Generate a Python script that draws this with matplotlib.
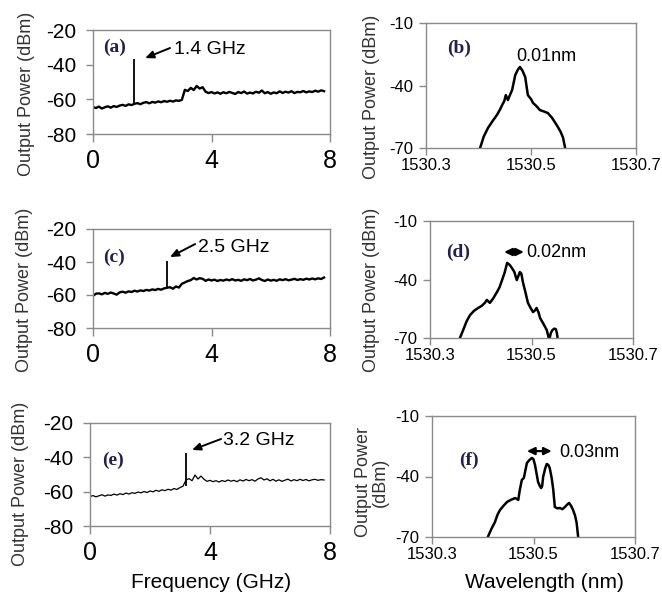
import matplotlib
matplotlib.use("Agg")
import matplotlib.pyplot as plt

W, H = 662, 602
GRAY = "#8a8a8a"
NAVY = "#23204f"
plt.rcParams["font.family"] = ["Liberation Sans", "DejaVu Sans"]
plt.rcParams["axes.unicode_minus"] = False

# RF spectra (a), (c), (e): shared frequency grid, GHz
freq = [0.0, 0.1, 0.2, 0.3, 0.4, 0.5, 0.6, 0.7, 0.8, 0.9,
        1.0, 1.1, 1.2, 1.3, 1.4, 1.5, 1.6, 1.7, 1.8, 1.9,
        2.0, 2.1, 2.2, 2.3, 2.4, 2.5, 2.6, 2.7, 2.8, 2.9,
        3.0, 3.1, 3.2, 3.3, 3.4, 3.5, 3.6, 3.7, 3.8, 3.9,
        4.0, 4.1, 4.2, 4.3, 4.4, 4.5, 4.6, 4.7, 4.8, 4.9,
        5.0, 5.1, 5.2, 5.3, 5.4, 5.5, 5.6, 5.7, 5.8, 5.9,
        6.0, 6.1, 6.2, 6.3, 6.4, 6.5, 6.6, 6.7, 6.8, 6.9,
        7.0, 7.1, 7.2, 7.3, 7.4, 7.5, 7.6, 7.7, 7.8]
power_a = [-64.5, -65.0, -64.2, -65.3, -64.6, -64.0, -64.8, -63.9, -64.4, -63.6,
           -63.2, -63.8, -62.9, -63.3, -62.6, -62.2, -62.8, -62.0, -61.6, -62.3,
           -61.5, -61.9, -61.2, -61.7, -61.0, -61.4, -60.8, -61.3, -60.6, -60.9,
           -60.3, -54.5, -55.2, -53.4, -54.6, -52.3, -53.8, -53.0, -55.6, -56.4,
           -55.8, -56.6, -56.0, -56.8, -55.9, -56.5, -55.7, -56.3, -56.9, -55.8,
           -56.4, -55.5, -56.7, -56.1, -56.6, -55.6, -56.2, -54.9, -56.5, -55.8,
           -56.8, -56.0, -56.5, -55.4, -56.3, -55.6, -56.1, -55.3, -56.4, -55.7,
           -55.9, -55.2, -56.0, -55.4, -55.8, -55.0, -55.6, -54.8, -55.3]
power_c = [-60.5, -59.2, -59.0, -59.6, -58.7, -59.3, -58.5, -59.1, -59.8, -58.4,
           -58.0, -58.6, -57.8, -58.2, -57.4, -57.9, -57.2, -57.6, -56.9, -57.3,
           -56.6, -57.0, -56.3, -56.8, -56.0, -55.6, -55.3, -56.2, -54.8, -55.5,
           -53.2, -52.4, -51.5, -51.0, -49.7, -50.6, -49.8, -50.2, -51.4, -50.6,
           -51.2, -50.7, -51.5, -50.9, -51.3, -50.6, -51.1, -50.4, -51.2, -50.8,
           -51.4, -50.5, -51.0, -50.3, -51.2, -50.7, -49.9, -50.9, -51.5, -50.6,
           -51.3, -50.8, -51.4, -50.5, -51.0, -50.4, -51.1, -50.7, -50.2, -50.9,
           -50.4, -50.8, -50.1, -50.6, -50.0, -50.5, -49.9, -50.3, -49.4]
power_e = [-62.8, -62.3, -63.0, -62.4, -61.8, -62.6, -61.9, -62.2, -61.4, -62.0,
           -61.2, -61.7, -60.8, -61.4, -60.6, -61.0, -60.2, -60.7, -59.9, -60.5,
           -59.6, -60.1, -59.2, -59.8, -58.9, -59.4, -58.6, -59.1, -58.2, -58.7,
           -57.6, -56.8, -53.2, -52.4, -53.6, -50.3, -52.6, -50.9, -52.8, -54.0,
           -53.4, -54.2, -53.6, -54.4, -53.5, -54.1, -53.2, -53.9, -53.4, -54.2,
           -53.1, -53.8, -52.9, -53.6, -53.0, -53.9, -52.6, -51.9, -53.2, -52.5,
           -53.7, -52.8, -53.9, -53.1, -54.0, -53.3, -52.7, -53.8, -53.0, -53.6,
           -52.8, -53.5, -52.9, -53.7, -53.1, -52.8, -53.4, -53.0, -53.2]
# beat-note spikes: frequency, floor, peak
spike_a = [1.4, -62.6, -37.0]
spike_c = [2.5, -55.6, -39.5]
spike_e = [3.2, -56.8, -37.5]

# optical spectra (b), (d), (f)
wl_b = [1530.403, 1530.410, 1530.418, 1530.427, 1530.435, 1530.441, 1530.445, 1530.449,
        1530.452, 1530.456, 1530.460, 1530.464, 1530.470, 1530.475, 1530.479, 1530.484,
        1530.489, 1530.494, 1530.500, 1530.504, 1530.510, 1530.517, 1530.525, 1530.532,
        1530.540, 1530.549, 1530.556, 1530.561, 1530.565]
pw_b = [-70, -64.5, -60.4, -57.0, -54.2, -51.5, -49.4, -47.5,
        -44.6, -47.0, -44.5, -42.2, -35.0, -32.4, -31.1, -33.0,
        -36.0, -44.6, -46.5, -48.4, -49.8, -51.8, -52.5, -53.2,
        -55.5, -59.0, -62.0, -65.0, -70]
wl_d = [1530.359, 1530.366, 1530.372, 1530.379, 1530.387, 1530.395, 1530.402, 1530.408,
        1530.412, 1530.418, 1530.425, 1530.432, 1530.437, 1530.442, 1530.447, 1530.452,
        1530.457, 1530.461, 1530.466, 1530.471, 1530.477, 1530.480, 1530.483, 1530.488,
        1530.493, 1530.498, 1530.503, 1530.507, 1530.510, 1530.514, 1530.517, 1530.523,
        1530.530, 1530.535, 1530.538, 1530.541, 1530.545, 1530.548, 1530.550, 1530.552]
pw_d = [-70, -65.5, -61.5, -58.2, -56.0, -54.6, -53.5, -52.0,
        -50.5, -52.0, -49.5, -46.4, -44.0, -40.3, -36.5, -31.5,
        -32.5, -34.0, -36.0, -40.3, -36.2, -37.0, -41.3, -46.5,
        -52.0, -54.5, -56.7, -55.8, -54.6, -57.0, -59.8, -62.5,
        -65.9, -71.0, -67.5, -66.0, -65.2, -65.5, -67.5, -71.0]
wl_f = [1530.410, 1530.417, 1530.424, 1530.429, 1530.434, 1530.441, 1530.448, 1530.456,
        1530.464, 1530.470, 1530.473, 1530.477, 1530.481, 1530.484, 1530.487, 1530.492,
        1530.497, 1530.500, 1530.503, 1530.506, 1530.509, 1530.512, 1530.515, 1530.517,
        1530.519, 1530.523, 1530.526, 1530.529, 1530.532, 1530.536, 1530.539, 1530.542,
        1530.547, 1530.552, 1530.557, 1530.562, 1530.566, 1530.570, 1530.574, 1530.578,
        1530.582, 1530.585, 1530.588]
pw_f = [-70, -66.0, -62.6, -59.0, -56.6, -54.5, -52.6, -51.5,
        -50.7, -51.6, -46.7, -41.7, -40.7, -37.0, -33.3, -31.8,
        -30.8, -31.5, -34.3, -38.5, -42.7, -44.5, -45.7, -44.8,
        -40.2, -36.0, -33.8, -34.2, -35.8, -41.0, -46.7, -55.1,
        -55.8, -55.6, -56.2, -55.1, -54.0, -53.1, -54.5, -56.6,
        -59.5, -63.0, -70]

rf_yticks = [-20, -40, -60, -80]
rf_xticks = [0, 4, 8]
opt_yticks = [-10, -40, -70]
opt_xticks = [1530.3, 1530.5, 1530.7]
opt_xlabels = ["1530.3", "1530.5", "1530.7"]


def box(fig, left, top, right, bottom):
    ax = fig.add_axes([left / W, 1 - bottom / H, (right - left) / W, (bottom - top) / H])
    for s in ax.spines.values():
        s.set_color(GRAY); s.set_linewidth(1.0)
    ax.tick_params(direction="out", color=GRAY, width=1.0, labelcolor="black")
    return ax


def rf_panel(ax, power, spike, lw, tag, tag_xy, note, head, tail, note_xy):
    ax.plot(freq, power, color="black", lw=lw)
    ax.vlines(spike[0], spike[1], spike[2], color="black", lw=1.3)
    ax.set_xlim(0, 8); ax.set_ylim(-80, -20)
    ax.set_xticks(rf_xticks); ax.set_yticks(rf_yticks)
    ax.tick_params(axis="x", length=6, labelsize=18, pad=5)
    ax.tick_params(axis="y", length=5, labelsize=15, pad=7)
    ax.text(*tag_xy, tag, family="Liberation Serif", weight="bold", fontsize=14,
            color=NAVY, va="center")
    ax.annotate("", xy=head, xytext=tail,
                arrowprops=dict(arrowstyle="-|>,head_length=0.5,head_width=0.22",
                                color="black", lw=1.4, shrinkA=0, shrinkB=0))
    ax.text(*note_xy, note, fontsize=14, va="center")


def opt_panel(ax, wl, pw, tag, tag_xy):
    ax.plot(wl, pw, color="black", lw=1.8)
    ax.set_xlim(1530.3, 1530.7); ax.set_ylim(-70, -10)
    ax.set_xticks(opt_xticks, opt_xlabels); ax.set_yticks(opt_yticks)
    ax.tick_params(axis="x", length=5, labelsize=12, pad=2)
    ax.tick_params(axis="y", length=5, labelsize=12, pad=4)
    ax.text(*tag_xy, tag, family="Liberation Serif", weight="bold", fontsize=14,
            color=NAVY, va="center")


def width_arrow(ax, x0, x1, y):
    ax.annotate("", xy=(x0, y), xytext=(x1, y),
                arrowprops=dict(arrowstyle="<|-|>,head_length=0.45,head_width=0.22",
                                color="black", lw=1.6, shrinkA=0, shrinkB=0))


def main():
    fig = plt.figure(figsize=(W / 100, H / 100), dpi=100)
    fig.patch.set_facecolor("white")

    ax = box(fig, 93, 30, 330, 134)
    rf_panel(ax, power_a, spike_a, 1.7, "(a)", (0.34, -29.8), "1.4 GHz",
             (1.76, -36.2), (2.6, -30.4), (2.75, -31.0))
    ax = box(fig, 93, 229, 330, 328)
    rf_panel(ax, power_c, spike_c, 1.7, "(c)", (0.34, -37.0), "2.5 GHz",
             (2.6, -37.0), (3.45, -29.1), (3.55, -31.0))
    ax = box(fig, 90, 423, 330, 526)
    rf_panel(ax, power_e, spike_e, 0.9, "(e)", (0.4, -41.6), "3.2 GHz",
             (3.4, -35.7), (4.37, -29.3), (4.43, -30.0))

    ax = box(fig, 426, 23, 636, 148)
    opt_panel(ax, wl_b, pw_b, "(b)", (1530.341, -22.0))
    ax.text(1530.529, -26.3, "0.01nm", fontsize=13, ha="center", va="center")

    ax = box(fig, 430, 221, 633, 338)
    opt_panel(ax, wl_d, pw_d, "(d)", (1530.332, -25.9))
    width_arrow(ax, 1530.446, 1530.485, -25.9)
    ax.text(1530.489, -25.9, "0.02nm", fontsize=13, va="center")

    ax = box(fig, 432, 416, 635, 537)
    opt_panel(ax, wl_f, pw_f, "(f)", (1530.353, -31.8))
    width_arrow(ax, 1530.487, 1530.536, -27.4)
    ax.text(1530.550, -28.0, "0.03nm", fontsize=13, va="center")

    # axis titles placed in figure pixels
    for x, y in [(27, 94), (25, 290), (21, 484), (371, 97), (371, 290)]:
        fig.text(x / W, 1 - y / H, "Output Power (dBm)", rotation=90, fontsize=13,
                 color="#333333", ha="center", va="center")
    fig.text(372 / W, 1 - 482 / H, "Output Power\n(dBm)", rotation=90, fontsize=13,
             color="#333333", ha="center", va="center", linespacing=1.0,
             multialignment="center")
    fig.text(211 / W, 1 - 583 / H, "Frequency (GHz)", fontsize=15, ha="center", va="center")
    fig.text(544 / W, 1 - 583 / H, "Wavelength (nm)", fontsize=15, ha="center", va="center")

    fig.savefig("out.png", dpi=100, facecolor="white")
    plt.close(fig)


if __name__ == "__main__":
    main()
